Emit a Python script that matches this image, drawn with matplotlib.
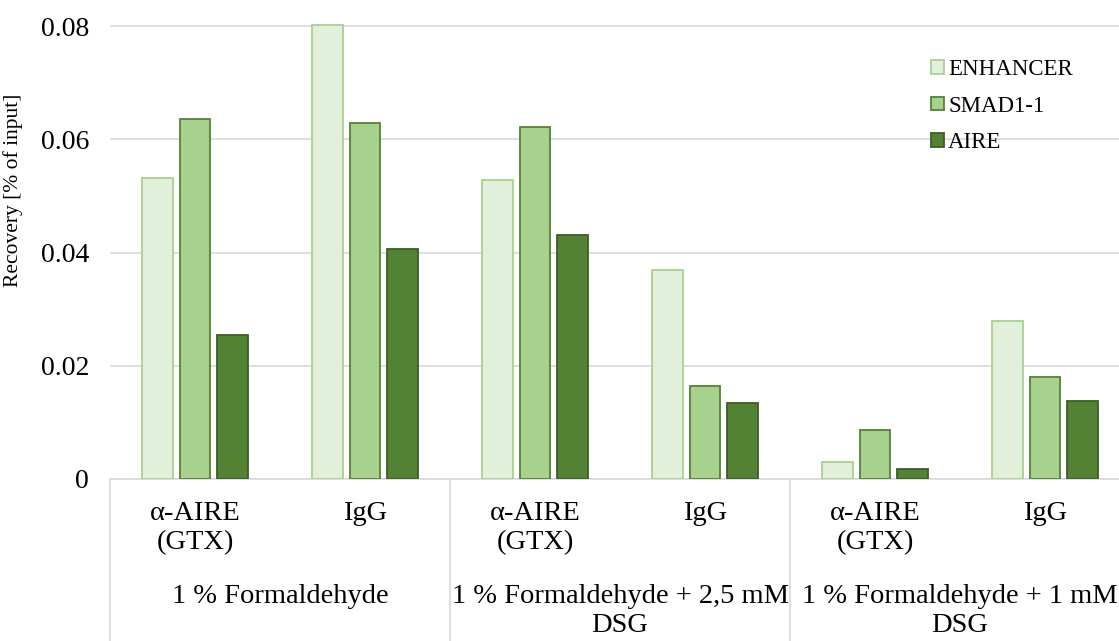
import matplotlib
matplotlib.use("Agg")
import matplotlib.pyplot as plt
import matplotlib.transforms as mtransforms
import numpy as np

plt.rcParams.update({
    "font.family": ["Liberation Serif", "DejaVu Serif"],
    "font.size": 20,
})

categories = ["α-AIRE\n(GTX)", "IgG", "α-AIRE\n(GTX)", "IgG", "α-AIRE\n(GTX)", "IgG"]
groups = ["1 % Formaldehyde", "1 % Formaldehyde + 2,5 mM\nDSG",
          "1 % Formaldehyde + 1 mM\nDSG"]
series = ["ENHANCER", "SMAD1-1", "AIRE"]
enhancer = [0.0532, 0.0802, 0.0528, 0.0369, 0.0030, 0.0279]
smad = [0.0636, 0.0629, 0.0622, 0.0164, 0.0087, 0.0180]
aire = [0.0254, 0.0406, 0.0431, 0.0134, 0.0018, 0.0138]

fills = ["#E2EFDA", "#A9D18E", "#548235"]
edges = ["#A9D18E", "#548235", "#3B5E25"]
grid_c = "#D9D9D9"

W, H = 1119, 641
fig = plt.figure(figsize=(W / 100, H / 100), dpi=100)
ax = fig.add_axes([110 / W, (H - 479) / H, 1020 / W, 464 / H])

x = np.arange(len(categories))
width = 0.18
step = 0.22
for i, vals in enumerate([enhancer, smad, aire]):
    ax.bar(x + (i - 1) * step, vals, width, color=fills[i], edgecolor=edges[i],
           linewidth=1.3, label=series[i], zorder=3)

ax.set_xlim(-0.5, 5.5)
ax.set_ylim(0, 0.082)
ax.set_yticks([0, 0.02, 0.04, 0.06, 0.08])
ax.set_yticklabels(["0", "0.02", "0.04", "0.06", "0.08"], fontsize=20)
ax.tick_params(axis="y", length=0, pad=15)
ax.set_xticks([])
ax.grid(axis="y", color=grid_c, linewidth=1.2, zorder=0)
for s in ["top", "right", "left"]:
    ax.spines[s].set_visible(False)
ax.spines["bottom"].set_color(grid_c)
ax.spines["bottom"].set_linewidth(1.2)

ax.set_ylabel("Recovery [% of input]", fontsize=15.5)
ax.yaxis.set_label_coords(-(110 - 23) / 1020, (479 - 190) / 464)

# multi-level category axis
trans = mtransforms.blended_transform_factory(ax.transData, fig.transFigure)
for xi, lab in zip(x, categories):
    ax.text(xi, (H - 501) / H, lab, transform=trans, ha="center", va="top",
            fontsize=20.5, linespacing=1.22)
for gi, g in enumerate(groups):
    ax.text(2 * gi + 0.5, (H - 584) / H, g, transform=trans, ha="center",
            va="top", fontsize=20.5, linespacing=1.22)
for bx in [-0.5, 1.5, 3.5]:
    ax.plot([bx, bx], [0, (H - 479) / H], transform=trans, color=grid_c,
            linewidth=1.2, clip_on=False)

ax.legend(loc="upper left", bbox_to_anchor=(931 / W, 1 - 59 / H),
          bbox_transform=fig.transFigure, frameon=False, fontsize=16.5,
          handlelength=0.55, handleheight=0.55, handletextpad=0.2,
          labelspacing=0.68, borderpad=0, borderaxespad=0)

fig.savefig("out.png", dpi=100)
